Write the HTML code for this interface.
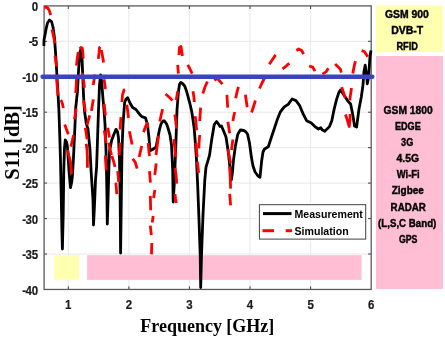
<!DOCTYPE html>
<html><head><meta charset="utf-8"><style>
html,body{margin:0;padding:0;background:#fff;}
body{width:445px;height:339px;position:relative;overflow:hidden;font-family:"Liberation Sans",sans-serif;}
</style></head><body>
<svg width="445" height="339" viewBox="0 0 445 339" style="position:absolute;left:0;top:0;filter:blur(0.4px)">
<line x1="68.3" y1="5.9" x2="68.3" y2="289.45" stroke="#e8e8e8" stroke-width="1"/>
<line x1="128.9" y1="5.9" x2="128.9" y2="289.45" stroke="#e8e8e8" stroke-width="1"/>
<line x1="189.4" y1="5.9" x2="189.4" y2="289.45" stroke="#e8e8e8" stroke-width="1"/>
<line x1="250.0" y1="5.9" x2="250.0" y2="289.45" stroke="#e8e8e8" stroke-width="1"/>
<line x1="310.6" y1="5.9" x2="310.6" y2="289.45" stroke="#e8e8e8" stroke-width="1"/>
<line x1="44" y1="41.3" x2="371" y2="41.3" stroke="#e8e8e8" stroke-width="1"/>
<line x1="44" y1="76.8" x2="371" y2="76.8" stroke="#e8e8e8" stroke-width="1"/>
<line x1="44" y1="112.2" x2="371" y2="112.2" stroke="#e8e8e8" stroke-width="1"/>
<line x1="44" y1="147.7" x2="371" y2="147.7" stroke="#e8e8e8" stroke-width="1"/>
<line x1="44" y1="183.1" x2="371" y2="183.1" stroke="#e8e8e8" stroke-width="1"/>
<line x1="44" y1="218.6" x2="371" y2="218.6" stroke="#e8e8e8" stroke-width="1"/>
<line x1="44" y1="254.0" x2="371" y2="254.0" stroke="#e8e8e8" stroke-width="1"/>
<rect x="54.2" y="255.2" width="25.2" height="24.6" fill="#ffffb0"/>
<rect x="87.1" y="255.2" width="274.5" height="24.7" fill="#ffbed4"/>
<line x1="68.3" y1="289.45" x2="68.3" y2="286.3" stroke="#404040" stroke-width="1"/>
<line x1="68.3" y1="5.9" x2="68.3" y2="9" stroke="#404040" stroke-width="1"/>
<line x1="128.9" y1="289.45" x2="128.9" y2="286.3" stroke="#404040" stroke-width="1"/>
<line x1="128.9" y1="5.9" x2="128.9" y2="9" stroke="#404040" stroke-width="1"/>
<line x1="189.4" y1="289.45" x2="189.4" y2="286.3" stroke="#404040" stroke-width="1"/>
<line x1="189.4" y1="5.9" x2="189.4" y2="9" stroke="#404040" stroke-width="1"/>
<line x1="250.0" y1="289.45" x2="250.0" y2="286.3" stroke="#404040" stroke-width="1"/>
<line x1="250.0" y1="5.9" x2="250.0" y2="9" stroke="#404040" stroke-width="1"/>
<line x1="310.6" y1="289.45" x2="310.6" y2="286.3" stroke="#404040" stroke-width="1"/>
<line x1="310.6" y1="5.9" x2="310.6" y2="9" stroke="#404040" stroke-width="1"/>
<line x1="44" y1="41.3" x2="47" y2="41.3" stroke="#404040" stroke-width="1"/>
<line x1="371" y1="41.3" x2="368" y2="41.3" stroke="#404040" stroke-width="1"/>
<line x1="44" y1="76.8" x2="47" y2="76.8" stroke="#404040" stroke-width="1"/>
<line x1="371" y1="76.8" x2="368" y2="76.8" stroke="#404040" stroke-width="1"/>
<line x1="44" y1="112.2" x2="47" y2="112.2" stroke="#404040" stroke-width="1"/>
<line x1="371" y1="112.2" x2="368" y2="112.2" stroke="#404040" stroke-width="1"/>
<line x1="44" y1="147.7" x2="47" y2="147.7" stroke="#404040" stroke-width="1"/>
<line x1="371" y1="147.7" x2="368" y2="147.7" stroke="#404040" stroke-width="1"/>
<line x1="44" y1="183.1" x2="47" y2="183.1" stroke="#404040" stroke-width="1"/>
<line x1="371" y1="183.1" x2="368" y2="183.1" stroke="#404040" stroke-width="1"/>
<line x1="44" y1="218.6" x2="47" y2="218.6" stroke="#404040" stroke-width="1"/>
<line x1="371" y1="218.6" x2="368" y2="218.6" stroke="#404040" stroke-width="1"/>
<line x1="44" y1="254.0" x2="47" y2="254.0" stroke="#404040" stroke-width="1"/>
<line x1="371" y1="254.0" x2="368" y2="254.0" stroke="#404040" stroke-width="1"/>
<rect x="44.1" y="5.9" width="327.1" height="283.55" fill="none" stroke="#5a5a5a" stroke-width="1.3"/>
<polyline points="43.9,46.0 44.0,40.0 45.0,35.0 46.2,28.5 47.5,23.0 49.5,20.0 51.5,21.5 53.0,27.0 54.5,38.0 55.5,52.0 56.5,68.0 57.7,88.0 58.9,110.0 59.7,134.0 60.5,160.0 61.3,200.0 62.0,235.0 62.4,249.0 63.2,215.0 63.8,170.0 64.5,148.0 65.3,140.0 66.5,142.0 67.4,146.5 69.0,171.0 70.5,187.7 71.7,182.0 72.5,175.0 73.6,155.0 75.0,125.0 75.7,108.0 77.4,92.0 78.6,70.0 80.0,52.0 80.9,49.2 81.8,52.0 82.5,70.0 83.5,95.0 84.5,111.0 86.3,123.6 88.0,129.0 90.0,150.0 91.1,171.0 93.0,200.0 93.5,225.0 94.5,205.0 95.5,180.0 96.6,167.0 97.5,140.0 98.5,110.0 99.5,85.0 100.6,74.8 101.7,82.0 102.7,95.4 104.0,110.0 105.0,124.0 106.0,150.0 106.5,171.0 107.0,200.0 107.3,224.0 108.0,200.0 109.0,165.0 109.6,150.6 111.7,140.3 114.0,134.0 116.0,129.4 117.5,131.5 118.5,138.0 119.5,160.0 120.2,200.0 120.6,253.0 121.3,200.0 122.0,150.0 123.0,125.0 124.6,102.5 126.0,99.0 127.7,97.7 130.0,103.0 132.4,107.2 136.0,109.5 139.5,114.2 141.8,116.6 145.4,117.8 147.3,123.7 148.9,137.0 150.0,150.7 152.5,149.5 156.0,147.1 159.5,129.4 161.0,124.0 163.0,121.0 164.5,121.0 166.6,124.0 168.0,128.0 170.0,135.0 171.5,145.0 172.7,170.0 173.2,202.0 174.5,180.0 176.0,140.0 177.0,110.0 178.4,92.0 179.6,84.0 180.8,82.4 183.0,84.0 184.7,86.0 186.5,91.0 188.3,97.7 190.0,104.0 191.8,111.9 193.0,120.0 194.2,128.4 195.5,145.0 196.5,160.0 197.7,186.0 199.0,220.0 200.2,255.0 200.7,287.5 201.5,255.0 203.0,215.0 204.8,180.0 206.0,167.2 209.5,155.4 211.8,138.9 214.2,124.7 216.6,121.5 218.5,124.0 220.0,126.5 221.5,126.0 223.6,131.0 226.0,137.0 228.3,152.0 230.2,170.0 231.3,180.0 232.5,172.0 233.5,160.0 235.4,146.0 237.8,134.2 240.3,130.0 243.9,130.5 245.5,131.5 247.5,134.0 249.5,143.0 251.3,156.6 253.0,166.0 255.1,172.0 258.0,176.0 260.0,177.2 261.6,161.3 263.0,152.0 264.5,149.0 268.3,146.7 270.9,138.8 273.6,130.8 277.5,118.9 280.2,112.2 284.2,106.9 288.2,104.3 292.1,99.0 296.0,100.6 299.5,105.3 303.0,113.6 306.6,120.7 311.3,123.0 314.9,126.6 318.4,129.0 320.8,127.7 322.4,130.1 324.8,131.3 327.1,128.9 329.5,126.6 331.8,120.7 334.2,108.9 336.6,99.4 338.9,92.4 340.5,90.0 343.0,93.7 347.7,100.8 350.7,104.2 353.0,116.0 354.5,126.0 356.6,127.0 359.0,108.9 361.3,97.0 363.0,85.0 363.9,72.0 365.2,65.2 366.5,74.5 367.3,83.8 368.6,77.1 370.0,56.0 371.0,50.6" fill="none" stroke="#000" stroke-width="2.8" stroke-linejoin="round"/>
<g fill="none" stroke="#ff0000" stroke-width="2.8" stroke-linejoin="round" stroke-linecap="butt">
<polyline points="44.3,7.4 46.3,7.2 47.8,8.0 49.3,10.6 50.7,15.0"/>
<polyline points="52.0,29.5 53.7,37.2 55.0,43.4"/>
<polyline points="55.0,55.8 55.8,61.0 56.7,66.5"/>
<polyline points="56.4,77.0 57.3,87.0 58.0,95.7"/>
<polyline points="60.6,100.1 61.5,101.2 62.5,104.0 63.3,108.1"/>
<polyline points="64.7,124.5 66.5,129.5 68.3,134.2"/>
<polyline points="67.6,150.0 68.8,155.3 70.6,162.4 71.5,174.0"/>
<polyline points="70.9,146.6 72.2,141.0 73.6,135.1"/>
<polyline points="74.5,119.2 75.3,114.0 76.2,108.5"/>
<polyline points="75.7,93.0 76.2,86.0 76.5,79.0"/>
<polyline points="76.5,65.6 77.3,58.0 78.3,52.0"/>
<polyline points="79.6,48.8 81.0,47.5 82.2,48.0 82.8,52.0 83.2,58.5"/>
<polyline points="82.2,72.7 83.5,80.0 84.5,87.7"/>
<polyline points="83.5,100.3 84.5,106.0 85.3,111.8"/>
<polyline points="85.3,127.7 86.2,133.0 87.1,139.2"/>
<polyline points="86.2,143.7 87.0,150.0 87.4,157.0 87.4,167.7"/>
<polyline points="87.1,125.0 88.4,120.0 89.7,115.4"/>
<polyline points="91.5,110.9 92.4,105.0 93.3,99.4"/>
<polyline points="93.2,85.0 94.2,79.0 95.0,74.5"/>
<polyline points="98.3,58.9 99.0,53.0 99.5,47.7 100.3,46.8"/>
<polyline points="101.3,50.0 102.5,56.0 103.6,62.4"/>
<polyline points="104.1,79.2 105.4,89.0"/>
<polyline points="104.2,103.8 104.8,110.0 105.4,115.4"/>
<polyline points="104.2,130.4 105.2,136.0 106.0,142.8"/>
<polyline points="107.7,127.7 108.6,132.5 109.5,137.5"/>
<polyline points="108.6,142.8 110.0,149.0 111.5,155.0"/>
<polyline points="105.3,155.3 105.8,163.0 106.2,170.4"/>
<polyline points="111.8,156.0 113.5,161.0 115.0,166.8"/>
<polyline points="117.7,171.2 118.2,176.0 118.6,181.9"/>
<polyline points="115.9,182.7 116.4,189.0 116.8,194.2"/>
<polyline points="119.2,155.0 119.7,148.0 120.1,142.8"/>
<polyline points="120.1,129.5 120.5,123.0 121.0,117.1"/>
<polyline points="121.9,102.0 122.5,95.0 124.0,90.0 125.0,89.5"/>
<polyline points="126.8,104.7 127.7,111.0 128.5,118.0"/>
<polyline points="129.4,131.3 130.8,138.0 132.1,144.6"/>
<polyline points="132.7,158.8 135.3,162.4 137.1,168.6"/>
<polyline points="139.2,157.0 140.5,151.0 141.8,146.0"/>
<polyline points="143.6,132.2 145.3,127.0 147.1,123.3 148.0,127.7"/>
<polyline points="148.2,143.0 148.8,150.0 149.5,156.2"/>
<polyline points="149.5,171.2 150.0,177.0 150.4,182.7"/>
<polyline points="150.3,196.0 150.5,203.0 150.7,210.3"/>
<polyline points="150.3,225.7 151.3,235.2"/>
<polyline points="151.8,243.0 151.5,254.4"/>
<polyline points="152.2,222.5 153.2,216.0"/>
<polyline points="153.6,198.0 154.8,190.0"/>
<polyline points="154.8,174.8 155.5,169.0 156.2,163.3"/>
<polyline points="156.0,155.0 157.3,145.0 158.6,135.7"/>
<polyline points="159.8,121.5 161.2,115.0 162.6,109.2"/>
<polyline points="165.5,94.0 169.0,97.0 172.5,100.5"/>
<polyline points="174.8,114.5 175.7,121.0 176.6,128.6"/>
<polyline points="173.9,139.2 174.8,148.0 175.8,157.0"/>
<polyline points="175.0,167.7 176.0,175.0 176.8,183.6"/>
<polyline points="175.0,194.2 175.6,199.0 176.3,203.1"/>
<polyline points="176.2,100.0 177.0,95.5 177.7,91.3"/>
<polyline points="177.7,64.8 178.0,69.0 178.4,73.6"/>
<polyline points="178.9,55.0 179.5,47.5 181.0,46.5 182.4,56.0"/>
<polyline points="187.7,64.8 190.0,69.0 192.2,73.6"/>
<polyline points="193.0,91.3 193.9,97.0 194.3,102.0"/>
<polyline points="195.2,116.2 196.0,123.0 196.6,130.4"/>
<polyline points="196.0,142.8 196.6,150.0 197.2,157.0"/>
<polyline points="197.2,161.5 198.0,167.0 198.6,173.0"/>
<polyline points="198.8,148.4 199.2,141.0 199.7,135.0"/>
<polyline points="199.7,121.0 200.2,114.0 200.6,107.7"/>
<polyline points="202.8,93.5 205.0,87.0 207.4,81.5"/>
<polyline points="214.5,80.6 217.1,78.0 222.4,84.2"/>
<polyline points="226.9,94.8 227.3,101.0 227.7,107.7"/>
<polyline points="227.9,121.8 228.8,127.5 229.7,133.3"/>
<polyline points="227.9,149.2 229.2,156.0 230.6,163.4"/>
<polyline points="229.7,166.5 230.2,177.0 230.6,188.6"/>
<polyline points="229.7,193.9 230.2,200.0 230.6,205.4"/>
<polyline points="231.5,150.0 232.2,144.5 232.9,139.5"/>
<polyline points="232.9,121.0 233.8,116.0 234.7,112.0"/>
<polyline points="235.7,98.3 237.0,92.0 238.4,86.8"/>
<polyline points="245.4,94.8 246.3,101.0 247.2,107.2"/>
<polyline points="251.6,112.5 253.4,107.0 255.4,100.5"/>
<polyline points="259.5,88.5 262.0,83.0 265.0,77.0"/>
<polyline points="269.3,64.3 272.5,59.5 275.6,54.9"/>
<polyline points="282.5,68.9 285.5,66.7 287.7,64.5 289.5,63.5"/>
<polyline points="296.3,50.5 298.8,49.0 301.7,50.5 303.6,54.2"/>
<polyline points="309.1,66.0 312.8,67.2 315.0,71.1"/>
<polyline points="322.4,74.1 326.0,71.9 328.3,68.2"/>
<polyline points="335.1,63.9 337.7,66.5 340.4,69.2 341.3,72.7"/>
<polyline points="341.7,87.1 343.5,92.5 345.3,97.7"/>
<polyline points="351.5,88.0 350.6,94.0 349.7,100.4"/>
<polyline points="345.5,114.5 347.6,121.0 349.2,126.5 350.0,120.0 350.2,114.0"/>
<polyline points="352.8,73.6 354.0,67.0 355.4,61.2"/>
<polyline points="361.6,50.6 364.3,51.5 367.8,56.8"/>
</g>
<line x1="42.6" y1="76.8" x2="372.3" y2="76.8" stroke="#3a43c2" stroke-width="4.4" stroke-linecap="round"/>
<rect x="257" y="202.2" width="111.1" height="39.4" fill="#fff"/>
<rect x="259.4" y="204.7" width="106.3" height="34.4" fill="#fff" stroke="#404040" stroke-width="1"/>
<line x1="263" y1="213.6" x2="291.5" y2="213.6" stroke="#000" stroke-width="3"/>
<line x1="262.5" y1="230.7" x2="274" y2="230.7" stroke="#ff0000" stroke-width="3"/>
<line x1="285.7" y1="230.7" x2="292" y2="230.7" stroke="#ff0000" stroke-width="3"/>
<text x="294.5" y="218.4" font-family="Liberation Sans" font-weight="bold" font-size="10.6" fill="#000">Measurement</text>
<text x="294.5" y="235" font-family="Liberation Sans" font-weight="bold" font-size="10.6" fill="#000">Simulation</text>
<text transform="translate(38.2,10.9) scale(0.92,1.03)" x="0" y="0" text-anchor="end" font-family="Liberation Sans" font-weight="bold" font-size="12.5" fill="#1a1a1a" stroke="#1a1a1a" stroke-width="0.2">0</text>
<text transform="translate(38.2,46.3) scale(0.92,1.03)" x="0" y="0" text-anchor="end" font-family="Liberation Sans" font-weight="bold" font-size="12.5" fill="#1a1a1a" stroke="#1a1a1a" stroke-width="0.2"><tspan>-</tspan><tspan dx="-0.8">5</tspan></text>
<text transform="translate(38.2,81.8) scale(0.92,1.03)" x="0" y="0" text-anchor="end" font-family="Liberation Sans" font-weight="bold" font-size="12.5" fill="#1a1a1a" stroke="#1a1a1a" stroke-width="0.2"><tspan>-</tspan><tspan dx="-0.8">10</tspan></text>
<text transform="translate(38.2,117.2) scale(0.92,1.03)" x="0" y="0" text-anchor="end" font-family="Liberation Sans" font-weight="bold" font-size="12.5" fill="#1a1a1a" stroke="#1a1a1a" stroke-width="0.2"><tspan>-</tspan><tspan dx="-0.8">15</tspan></text>
<text transform="translate(38.2,152.7) scale(0.92,1.03)" x="0" y="0" text-anchor="end" font-family="Liberation Sans" font-weight="bold" font-size="12.5" fill="#1a1a1a" stroke="#1a1a1a" stroke-width="0.2"><tspan>-</tspan><tspan dx="-0.8">20</tspan></text>
<text transform="translate(38.2,188.1) scale(0.92,1.03)" x="0" y="0" text-anchor="end" font-family="Liberation Sans" font-weight="bold" font-size="12.5" fill="#1a1a1a" stroke="#1a1a1a" stroke-width="0.2"><tspan>-</tspan><tspan dx="-0.8">25</tspan></text>
<text transform="translate(38.2,223.6) scale(0.92,1.03)" x="0" y="0" text-anchor="end" font-family="Liberation Sans" font-weight="bold" font-size="12.5" fill="#1a1a1a" stroke="#1a1a1a" stroke-width="0.2"><tspan>-</tspan><tspan dx="-0.8">30</tspan></text>
<text transform="translate(38.2,259.0) scale(0.92,1.03)" x="0" y="0" text-anchor="end" font-family="Liberation Sans" font-weight="bold" font-size="12.5" fill="#1a1a1a" stroke="#1a1a1a" stroke-width="0.2"><tspan>-</tspan><tspan dx="-0.8">35</tspan></text>
<text transform="translate(38.2,294.5) scale(0.92,1.03)" x="0" y="0" text-anchor="end" font-family="Liberation Sans" font-weight="bold" font-size="12.5" fill="#1a1a1a" stroke="#1a1a1a" stroke-width="0.2"><tspan>-</tspan><tspan dx="-0.8">40</tspan></text>
<text transform="translate(68.3,309.4) scale(0.92,1.03)" x="0" y="0" text-anchor="middle" font-family="Liberation Sans" font-weight="bold" font-size="12.5" fill="#1a1a1a" stroke="#1a1a1a" stroke-width="0.2">1</text>
<text transform="translate(128.9,309.4) scale(0.92,1.03)" x="0" y="0" text-anchor="middle" font-family="Liberation Sans" font-weight="bold" font-size="12.5" fill="#1a1a1a" stroke="#1a1a1a" stroke-width="0.2">2</text>
<text transform="translate(189.4,309.4) scale(0.92,1.03)" x="0" y="0" text-anchor="middle" font-family="Liberation Sans" font-weight="bold" font-size="12.5" fill="#1a1a1a" stroke="#1a1a1a" stroke-width="0.2">3</text>
<text transform="translate(250.0,309.4) scale(0.92,1.03)" x="0" y="0" text-anchor="middle" font-family="Liberation Sans" font-weight="bold" font-size="12.5" fill="#1a1a1a" stroke="#1a1a1a" stroke-width="0.2">4</text>
<text transform="translate(310.6,309.4) scale(0.92,1.03)" x="0" y="0" text-anchor="middle" font-family="Liberation Sans" font-weight="bold" font-size="12.5" fill="#1a1a1a" stroke="#1a1a1a" stroke-width="0.2">5</text>
<text transform="translate(371.2,309.4) scale(0.92,1.03)" x="0" y="0" text-anchor="middle" font-family="Liberation Sans" font-weight="bold" font-size="12.5" fill="#1a1a1a" stroke="#1a1a1a" stroke-width="0.2">6</text>
<text transform="translate(207.3,332.2) scale(1,1.08)" x="0" y="0" text-anchor="middle" font-family="Liberation Serif" font-weight="bold" font-size="18" fill="#000">Frequency [GHz]</text>
<text transform="translate(18.6,142.4) rotate(-90)" text-anchor="middle" font-family="Liberation Serif" font-weight="bold" font-size="20.5" fill="#000">S11 [dB]</text>
<rect x="376" y="5.4" width="67" height="46.6" fill="#ffffb0"/>
<rect x="376" y="56" width="67" height="233" fill="#ffbed4"/>
<text transform="translate(406.9,17.7) scale(0.99,1)" x="0" y="0" text-anchor="middle" font-family="Liberation Sans" font-weight="bold" font-size="10.5" fill="#000" stroke="#000" stroke-width="0.4">GSM 900</text>
<text transform="translate(407.2,33.6) scale(1.0,1)" x="0" y="0" text-anchor="middle" font-family="Liberation Sans" font-weight="bold" font-size="10.5" fill="#000" stroke="#000" stroke-width="0.4">DVB-T</text>
<text transform="translate(407.2,49.6) scale(0.88,1)" x="0" y="0" text-anchor="middle" font-family="Liberation Sans" font-weight="bold" font-size="10.5" fill="#000" stroke="#000" stroke-width="0.4">RFID</text>
<text transform="translate(408.1,113.6) scale(0.98,1)" x="0" y="0" text-anchor="middle" font-family="Liberation Sans" font-weight="bold" font-size="10.5" fill="#000" stroke="#000" stroke-width="0.4">GSM 1800</text>
<text transform="translate(407.8,129.75) scale(0.87,1)" x="0" y="0" text-anchor="middle" font-family="Liberation Sans" font-weight="bold" font-size="10.5" fill="#000" stroke="#000" stroke-width="0.4">EDGE</text>
<text transform="translate(407.2,145.9) scale(0.87,1)" x="0" y="0" text-anchor="middle" font-family="Liberation Sans" font-weight="bold" font-size="10.5" fill="#000" stroke="#000" stroke-width="0.4">3G</text>
<text transform="translate(407.8,162.05) scale(0.99,1)" x="0" y="0" text-anchor="middle" font-family="Liberation Sans" font-weight="bold" font-size="10.5" fill="#000" stroke="#000" stroke-width="0.4">4.5G</text>
<text transform="translate(408.2,178.2) scale(0.9,1)" x="0" y="0" text-anchor="middle" font-family="Liberation Sans" font-weight="bold" font-size="10.5" fill="#000" stroke="#000" stroke-width="0.4">Wi-Fi</text>
<text transform="translate(407.8,194.35) scale(0.95,1)" x="0" y="0" text-anchor="middle" font-family="Liberation Sans" font-weight="bold" font-size="10.5" fill="#000" stroke="#000" stroke-width="0.4">Zigbee</text>
<text transform="translate(408.2,210.5) scale(0.93,1)" x="0" y="0" text-anchor="middle" font-family="Liberation Sans" font-weight="bold" font-size="10.5" fill="#000" stroke="#000" stroke-width="0.4">RADAR</text>
<text transform="translate(407.2,226.65) scale(0.925,1)" x="0" y="0" text-anchor="middle" font-family="Liberation Sans" font-weight="bold" font-size="10.5" fill="#000" stroke="#000" stroke-width="0.4">(L,S,C Band)</text>
<text transform="translate(408.2,242.8) scale(0.84,1)" x="0" y="0" text-anchor="middle" font-family="Liberation Sans" font-weight="bold" font-size="10.5" fill="#000" stroke="#000" stroke-width="0.4">GPS</text>
</svg>
</body></html>
